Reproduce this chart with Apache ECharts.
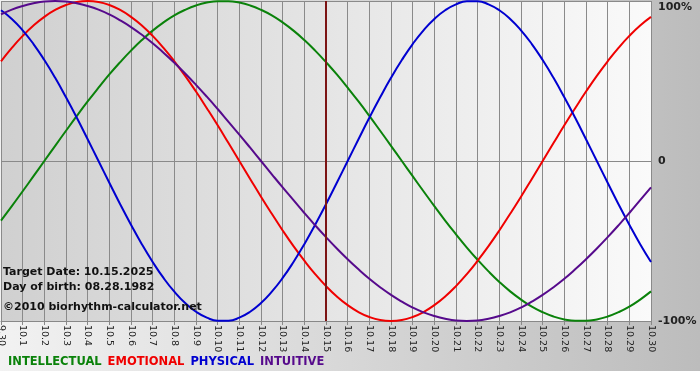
<!DOCTYPE html>
<html>
<head>
<meta charset="utf-8">
<script src="https://cdn.jsdelivr.net/npm/echarts@6/dist/echarts.min.js"></script>
<style>
  html, body { margin: 0; padding: 0; background: #fff; }
  #chart { width: 700px; height: 371px; }
</style>
</head>
<body>
<div id="chart"></div>
<script>
// days shown, 09.30 to 10.30
const categories = [
  '9.30', '10.1', '10.2', '10.3', '10.4', '10.5', '10.6', '10.7', '10.8', '10.9', '10.10',
  '10.11', '10.12', '10.13', '10.14', '10.15', '10.16', '10.17', '10.18', '10.19', '10.20',
  '10.21', '10.22', '10.23', '10.24', '10.25', '10.26', '10.27', '10.28', '10.29', '10.30'
];

// curves read every half day, -1 .. 1
const step = 0.5;
const intellectual = [
  -0.372, -0.282, -0.189, -0.095, 0, 0.095, 0.189, 0.282, 0.372, 0.458,
  0.541, 0.618, 0.690, 0.756, 0.815, 0.866, 0.910, 0.945, 0.972, 0.990,
  0.999, 0.999, 0.990, 0.972, 0.945, 0.910, 0.866, 0.815, 0.756, 0.690,
  0.618, 0.541, 0.458, 0.372, 0.282, 0.189, 0.095, 0, -0.095, -0.189,
  -0.282, -0.372, -0.458, -0.541, -0.618, -0.690, -0.756, -0.815, -0.866, -0.910,
  -0.945, -0.972, -0.990, -0.999, -0.999, -0.990, -0.972, -0.945, -0.910, -0.866,
  -0.815
];
const emotional = [
  0.623, 0.707, 0.782, 0.847, 0.901, 0.944, 0.975, 0.994, 1.000, 0.994,
  0.975, 0.944, 0.901, 0.847, 0.782, 0.707, 0.623, 0.532, 0.434, 0.330,
  0.223, 0.112, 0, -0.112, -0.223, -0.330, -0.434, -0.532, -0.623, -0.707,
  -0.782, -0.847, -0.901, -0.944, -0.975, -0.994, -1.000, -0.994, -0.975, -0.944,
  -0.901, -0.847, -0.782, -0.707, -0.623, -0.532, -0.434, -0.330, -0.223, -0.112,
  0, 0.112, 0.223, 0.330, 0.434, 0.532, 0.623, 0.707, 0.782, 0.847,
  0.901
];
const physical = [
  0.942, 0.888, 0.817, 0.731, 0.631, 0.520, 0.398, 0.270, 0.136, 0,
  -0.136, -0.270, -0.398, -0.520, -0.631, -0.731, -0.817, -0.888, -0.942, -0.979,
  -0.998, -0.998, -0.979, -0.942, -0.888, -0.817, -0.731, -0.631, -0.520, -0.398,
  -0.270, -0.136, 0, 0.136, 0.270, 0.398, 0.520, 0.631, 0.731, 0.817,
  0.888, 0.942, 0.979, 0.998, 0.998, 0.979, 0.942, 0.888, 0.817, 0.731,
  0.631, 0.520, 0.398, 0.270, 0.136, 0, -0.136, -0.270, -0.398, -0.520,
  -0.631
];
const intuitive = [
  0.916, 0.946, 0.969, 0.986, 0.997, 1.000, 0.997, 0.986, 0.969, 0.946,
  0.916, 0.879, 0.837, 0.789, 0.736, 0.677, 0.614, 0.547, 0.476, 0.402,
  0.325, 0.245, 0.165, 0.083, 0, -0.083, -0.165, -0.245, -0.325, -0.402,
  -0.476, -0.547, -0.614, -0.677, -0.736, -0.789, -0.837, -0.879, -0.916, -0.946,
  -0.969, -0.986, -0.997, -1.000, -0.997, -0.986, -0.969, -0.946, -0.916, -0.879,
  -0.837, -0.789, -0.736, -0.677, -0.614, -0.547, -0.476, -0.402, -0.325, -0.245,
  -0.165
];

const targetDay = 15; // 10.15
const infoLines = ['Target Date: 10.15.2025', 'Day of birth: 08.28.1982'];
const copyright = '\u00a92010 biorhythm-calculator.net';

const colors = {
  INTELLECTUAL: '#0a820a',
  EMOTIONAL: '#f00000',
  PHYSICAL: '#0000d0',
  INTUITIVE: '#560a8c'
};

const chart = echarts.init(document.getElementById('chart'));

const makeSeries = (name, values) => ({
  name,
  type: 'line',
  data: values.map((v, i) => [i * step, v]),
  smooth: true,
  symbol: 'none',
  lineStyle: { width: 2, color: colors[name] },
  itemStyle: { color: colors[name] }
});

const series = [
  makeSeries('INTELLECTUAL', intellectual),
  makeSeries('EMOTIONAL', emotional),
  makeSeries('PHYSICAL', physical),
  makeSeries('INTUITIVE', intuitive)
];
series[0].markLine = {
  silent: true,
  symbol: 'none',
  label: { show: false },
  lineStyle: { color: '#7c1414', width: 2, type: 'solid' },
  data: [{ xAxis: targetDay }]
};

const font = 'DejaVu Sans';

chart.setOption({
  animation: false,
  backgroundColor: new echarts.graphic.LinearGradient(0, 0, 1, 0, [
    { offset: 0, color: '#f2f2f2' },
    { offset: 1, color: '#bcbcbc' }
  ]),
  grid: {
    left: 1,
    right: 49,
    top: 1,
    height: 320,
    containLabel: false,
    outerBoundsMode: 'none',
    show: true,
    borderWidth: 0,
    backgroundColor: new echarts.graphic.LinearGradient(0, 0, 1, 0, [
      { offset: 0, color: '#d0d0d0' },
      { offset: 1, color: '#fafafa' }
    ])
  },
  legend: {
    left: 3,
    top: 355,
    padding: 0,
    icon: 'none',
    itemWidth: 0,
    itemGap: 1,
    selectedMode: false,
    textStyle: { fontFamily: font, fontWeight: 'bold', fontSize: 11.5 },
    data: Object.keys(colors).map(name => ({
      name,
      textStyle: { color: colors[name] }
    }))
  },
  xAxis: {
    type: 'value',
    min: 0,
    max: categories.length - 1,
    interval: 1,
    axisLine: { show: true, onZero: false, lineStyle: { color: '#888', width: 1 } },
    axisTick: { show: true, length: 4, lineStyle: { color: '#888' } },
    axisLabel: {
      rotate: -90,
      margin: 4,
      color: '#222',
      fontFamily: font,
      fontSize: 9.5,
      showMinLabel: true,
      showMaxLabel: true,
      formatter: v => categories[v]
    },
    splitLine: { show: true, lineStyle: { color: '#8a8a8a', width: 1 } }
  },
  yAxis: {
    type: 'value',
    position: 'right',
    min: -1,
    max: 1,
    interval: 1,
    axisLine: { show: false },
    axisTick: { show: false },
    axisLabel: {
      margin: 7,
      color: '#222',
      fontFamily: font,
      fontWeight: 'bold',
      fontSize: 11,
      formatter: v => (v === 1 ? '{t|100%}' : v === 0 ? '0' : '-100%'),
      rich: {
        t: {
          fontFamily: font,
          fontWeight: 'bold',
          fontSize: 11,
          color: '#222',
          padding: [12, 0, 0, 0]
        }
      }
    },
    splitLine: { show: true, lineStyle: { color: '#8a8a8a', width: 1 } }
  },
  graphic: [
    {
      type: 'text',
      left: 3,
      top: 265,
      z: 100,
      style: {
        text: infoLines.join('\n'),
        fontFamily: font,
        fontWeight: 'bold',
        fontSize: 11,
        lineHeight: 15,
        fill: '#111'
      }
    },
    {
      type: 'text',
      left: 3,
      top: 302,
      z: 100,
      style: {
        text: copyright,
        fontFamily: font,
        fontWeight: 'bold',
        fontSize: 11,
        fill: '#111'
      }
    }
  ],
  series
});
</script>
</body>
</html>
